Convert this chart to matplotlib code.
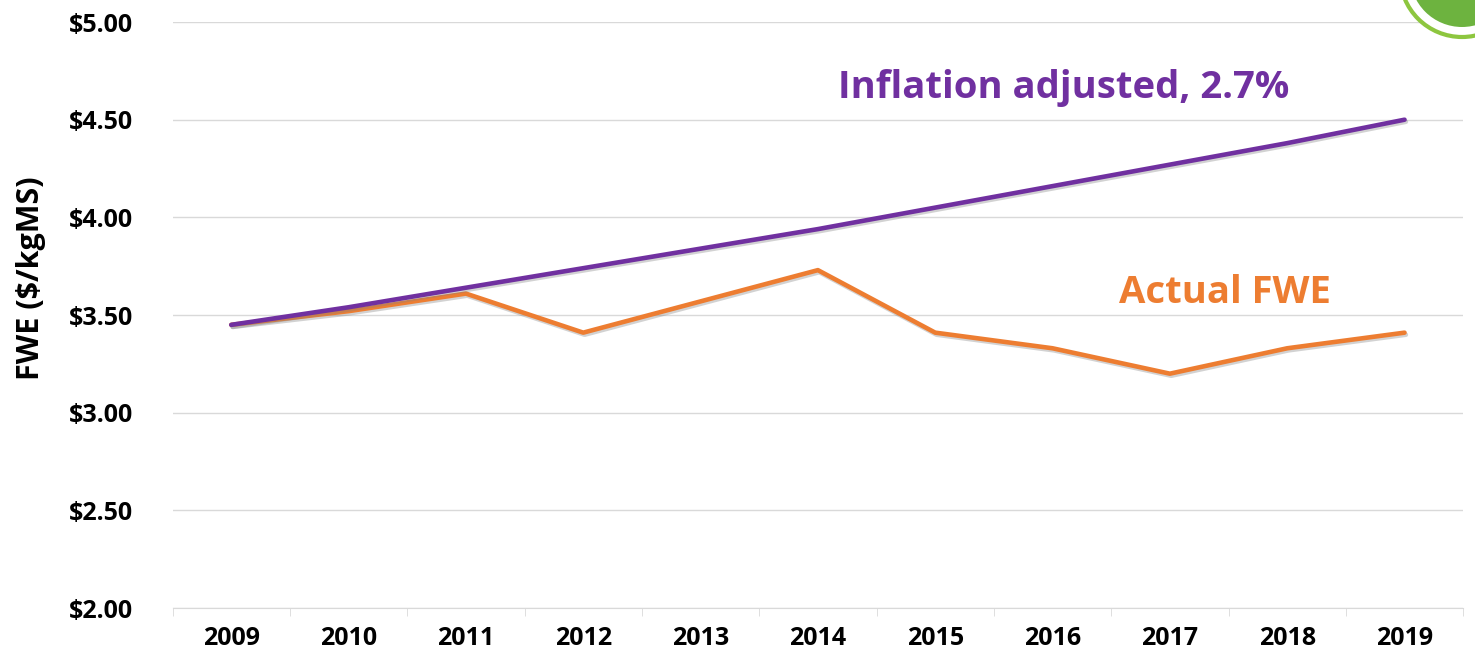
import matplotlib.pyplot as plt
import matplotlib.patheffects as pe
from matplotlib.patches import Circle
import numpy as np

years = ['2009', '2010', '2011', '2012', '2013', '2014', '2015', '2016', '2017', '2018', '2019']
inflation_adjusted = [3.45, 3.54, 3.64, 3.74, 3.84, 3.94, 4.05, 4.16, 4.27, 4.38, 4.50]
actual_fwe = [3.45, 3.52, 3.61, 3.41, 3.57, 3.73, 3.41, 3.33, 3.20, 3.33, 3.41]
y_ticks = [2.0, 2.5, 3.0, 3.5, 4.0, 4.5, 5.0]

PURPLE = '#7030A0'
ORANGE = '#ED7D31'

plt.rcParams['font.family'] = ['Open Sans', 'DejaVu Sans']
plt.rcParams['font.weight'] = 'bold'

fig = plt.figure(figsize=(14.75, 6.61), dpi=100)
ax = fig.add_axes([0.117, 0.080, 0.875, 0.8867])

x = np.arange(len(years))
shadow = [pe.SimpleLineShadow(offset=(1, -1.5), shadow_color='gray', alpha=0.35), pe.Normal()]
ax.plot(x, actual_fwe, color=ORANGE, lw=3.3, solid_capstyle='round', path_effects=shadow, zorder=3)
ax.plot(x, inflation_adjusted, color=PURPLE, lw=3.3, solid_capstyle='round', path_effects=shadow, zorder=4)

ax.set_xlim(-0.5, len(years) - 0.5)
ax.set_ylim(2.0, 5.0)
ax.set_yticks(y_ticks)
ax.set_yticklabels([f'${v:.2f}' for v in y_ticks], fontsize=18, fontweight='bold')
ax.set_xticks(x)
ax.set_xticklabels(years, fontsize=18, fontweight='bold')
ax.set_xticks(np.arange(-0.5, len(years)), minor=True)

ax.grid(axis='y', color='#d9d9d9', lw=1)
ax.set_axisbelow(True)
for side in ['top', 'right', 'left']:
    ax.spines[side].set_visible(False)
ax.spines['bottom'].set_color('#d9d9d9')
ax.tick_params(axis='y', length=0, pad=75)
ax.tick_params(axis='x', which='major', length=0, pad=13)
ax.tick_params(axis='x', which='minor', length=6, color='#d9d9d9')
for lbl in ax.get_yticklabels():
    lbl.set_horizontalalignment('left')

ax.set_ylabel('FWE ($/kgMS)', fontsize=22, fontweight='bold')
ax.yaxis.set_label_coords(-0.098, 0.563)

ax.text(5.17, 4.611, 'Inflation adjusted, 2.7%', color=PURPLE, fontsize=27.5,
        fontweight='bold', ha='left', va='baseline')
ax.text(7.57, 3.562, 'Actual FWE', color=ORANGE, fontsize=27.5,
        fontweight='bold', ha='left', va='baseline')

# cropped logo in the top right corner
fig.patches.append(Circle((1462, 686), 62, transform=None, facecolor='white',
                          edgecolor='#8dc63f', lw=3, zorder=0))
fig.patches.append(Circle((1462, 686), 52, transform=None, facecolor='#6db33f',
                          edgecolor='none', zorder=0))

fig.savefig('out.png', dpi=100)
